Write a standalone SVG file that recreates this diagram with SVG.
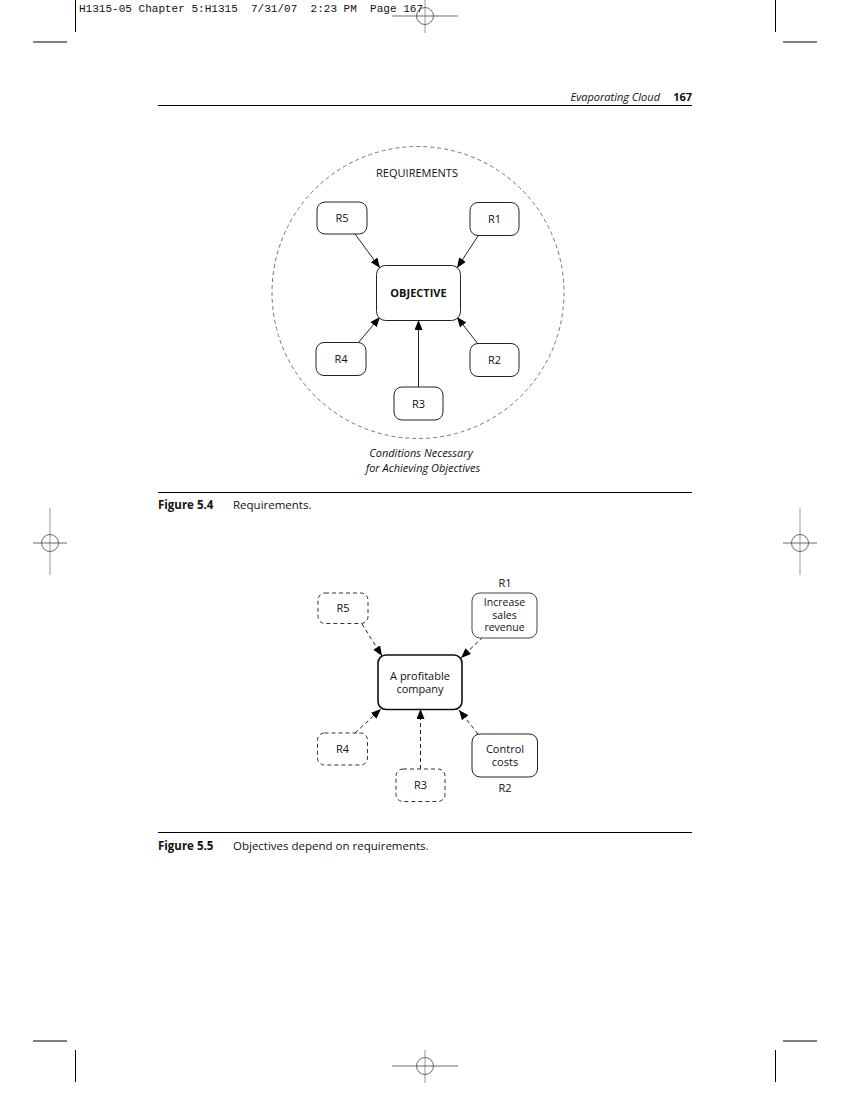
<svg xmlns="http://www.w3.org/2000/svg" width="850" height="1100" viewBox="0 0 850 1100">
<style>
.t{font-family:"Open Sans","Noto Sans","DejaVu Sans",sans-serif;font-size:11px;fill:#111}
.s{font-size:10.5px}
.c{text-anchor:middle}
.b{font-weight:bold}
.i{font-style:italic}
.box{fill:#fff;stroke:#222;stroke-width:1}
.dbox{fill:#fff;stroke:#333;stroke-width:1;stroke-dasharray:4,3}
.ln{stroke:#222;stroke-width:1;fill:none}
.dln{stroke:#222;stroke-width:1;fill:none;stroke-dasharray:4,3}
.crop{stroke:#000;stroke-width:1}
.reg{stroke:#444;stroke-width:0.8;fill:none}
.regv{stroke:#ccc;stroke-width:2}
</style>
<defs>
<marker id="ah" markerUnits="userSpaceOnUse" markerWidth="12" markerHeight="10" refX="10" refY="4" orient="auto">
<path d="M0,0 L10,4 L0,8 Z" fill="#000"/>
</marker>
</defs>
<rect width="850" height="1100" fill="#fff"/>

<g id="printmarks">
<text x="79" y="12" xml:space="preserve" textLength="344" lengthAdjust="spacingAndGlyphs" style="font-family:'Liberation Mono',monospace;font-size:11px;fill:#111">H1315-05 Chapter 5:H1315  7/31/07  2:23 PM  Page 167</text>
<line class="crop" x1="75.5" y1="0" x2="75.5" y2="32"/>
<line class="crop" x1="33" y1="42" x2="67" y2="42"/>
<line class="crop" x1="775.5" y1="0" x2="775.5" y2="32"/>
<line class="crop" x1="783" y1="42" x2="817" y2="42"/>
<line class="crop" x1="33" y1="1041" x2="67" y2="1041"/>
<line class="crop" x1="75.5" y1="1050" x2="75.5" y2="1082"/>
<line class="crop" x1="783" y1="1041" x2="817" y2="1041"/>
<line class="crop" x1="775.5" y1="1050" x2="775.5" y2="1082"/>
<g id="reg-top"><line class="regv" x1="425" y1="0" x2="425" y2="33"/><line class="reg" x1="392" y1="16" x2="458" y2="16"/><circle class="reg" cx="425" cy="16" r="8.5"/></g>
<g id="reg-bottom"><line class="regv" x1="425" y1="1050" x2="425" y2="1083"/><line class="reg" x1="392" y1="1066" x2="458" y2="1066"/><circle class="reg" cx="425" cy="1066" r="8.5"/></g>
<g id="reg-left"><line class="regv" x1="50" y1="508" x2="50" y2="575"/><line class="reg" x1="33" y1="543" x2="67" y2="543"/><circle class="reg" cx="50" cy="543" r="8.5"/></g>
<g id="reg-right"><line class="regv" x1="800" y1="508" x2="800" y2="575"/><line class="reg" x1="783" y1="543" x2="817" y2="543"/><circle class="reg" cx="800" cy="543" r="8.5"/></g>
</g>

<g id="running-head">
<text class="t i" x="660" y="101" style="text-anchor:end">Evaporating Cloud</text>
<text class="t b" x="692" y="101" style="text-anchor:end">167</text>
<line x1="158" y1="105.5" x2="692" y2="105.5" stroke="#000" stroke-width="1"/>
</g>

<!-- Figure 5.4 -->
<g id="fig54">
<g id="fig54-cloud">
<circle cx="418" cy="292.5" r="146" fill="none" stroke="#555" stroke-width="0.8" stroke-dasharray="4,3"/>
<text class="t c" x="417" y="177">REQUIREMENTS</text>
</g>
<g id="fig54-connectors">
<line class="ln" x1="355" y1="234" x2="380" y2="268" marker-end="url(#ah)"/>
<line class="ln" x1="478" y1="236" x2="457" y2="268" marker-end="url(#ah)"/>
<line class="ln" x1="358" y1="343" x2="380" y2="317" marker-end="url(#ah)"/>
<line class="ln" x1="418.5" y1="387" x2="418.5" y2="320" marker-end="url(#ah)"/>
<line class="ln" x1="478" y1="344" x2="457" y2="317" marker-end="url(#ah)"/>
</g>
<g id="fig54-objective"><rect class="box" x="376.5" y="265.5" width="84" height="55" rx="9"/><text class="t b c" x="418.5" y="297">OBJECTIVE</text></g>
<g id="fig54-r5"><rect class="box" x="317" y="202" width="50" height="32" rx="8"/><text class="t c" x="342" y="222">R5</text></g>
<g id="fig54-r1"><rect class="box" x="470" y="202.5" width="49" height="33" rx="8"/><text class="t c" x="494.5" y="223">R1</text></g>
<g id="fig54-r4"><rect class="box" x="316" y="342.5" width="50" height="33" rx="8"/><text class="t c" x="341" y="363">R4</text></g>
<g id="fig54-r2"><rect class="box" x="470" y="343.5" width="49" height="33" rx="8"/><text class="t c" x="494.5" y="364">R2</text></g>
<g id="fig54-r3"><rect class="box" x="394" y="387" width="49" height="33" rx="8"/><text class="t c" x="418.5" y="408">R3</text></g>
<g id="fig54-note">
<text class="t i c" x="421" y="457">Conditions Necessary</text>
<text class="t i c" x="423" y="472">for Achieving Objectives</text>
</g>
<line x1="158" y1="492.5" x2="692" y2="492.5" stroke="#000" stroke-width="1"/>
<text class="t b" x="158" y="509" style="font-size:11.5px">Figure 5.4</text>
<text class="t" x="233" y="509" style="font-size:11.5px">Requirements.</text>
</g>

<!-- Figure 5.5 -->
<g id="fig55">
<g id="fig55-connectors">
<line class="dln" x1="362" y1="624" x2="382" y2="656" marker-end="url(#ah)"/>
<line class="dln" x1="483" y1="637" x2="461" y2="658" marker-end="url(#ah)"/>
<line class="dln" x1="355" y1="733" x2="381" y2="709" marker-end="url(#ah)"/>
<line class="dln" x1="420.5" y1="769" x2="420.5" y2="709" marker-end="url(#ah)"/>
<line class="dln" x1="478" y1="734" x2="459" y2="710" marker-end="url(#ah)"/>
</g>
<g id="fig55-objective"><rect x="378" y="655" width="84" height="54.5" rx="8" fill="#fff" stroke="#111" stroke-width="1.6"/><text class="t c" x="420" y="680">A profitable</text><text class="t c" x="420" y="693">company</text></g>
<g id="fig55-r5"><rect class="dbox" x="318" y="593" width="50" height="30.5" rx="7"/><text class="t c" x="343" y="612">R5</text></g>
<g id="fig55-r1"><text class="t c" x="505" y="587">R1</text><rect x="472" y="593" width="65" height="45" rx="8" fill="#fff" stroke="#444" stroke-width="1"/><text class="t s c" x="504.5" y="606">Increase</text><text class="t s c" x="504.5" y="618.5">sales</text><text class="t s c" x="504.5" y="631">revenue</text></g>
<g id="fig55-r4"><rect class="dbox" x="317.5" y="733" width="50" height="32" rx="7"/><text class="t c" x="342.5" y="753">R4</text></g>
<g id="fig55-r3"><rect class="dbox" x="396" y="769" width="49" height="32.5" rx="7"/><text class="t c" x="420.5" y="789">R3</text></g>
<g id="fig55-r2"><rect x="472" y="734" width="65.5" height="43" rx="8" fill="#fff" stroke="#222" stroke-width="1"/><text class="t c" x="505" y="753">Control</text><text class="t c" x="505" y="766">costs</text><text class="t c" x="505" y="792">R2</text></g>
<line x1="158" y1="832.5" x2="692" y2="832.5" stroke="#000" stroke-width="1"/>
<text class="t b" x="158" y="850" style="font-size:11.5px">Figure 5.5</text>
<text class="t" x="233" y="850" style="font-size:11.5px">Objectives depend on requirements.</text>
</g>
</svg>
